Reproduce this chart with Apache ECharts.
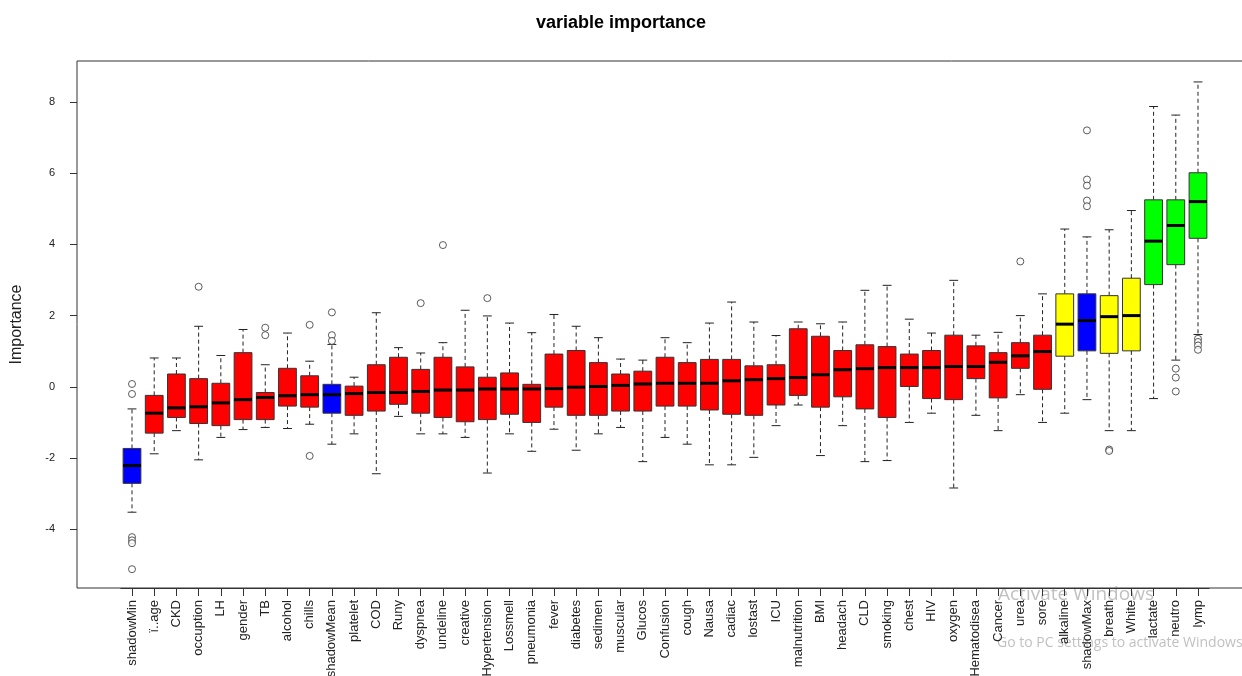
<!DOCTYPE html>
<html>
<head>
<meta charset="utf-8">
<title>variable importance</title>
<script src="https://cdn.jsdelivr.net/npm/echarts@6/dist/echarts.min.js"></script>
<style>
  html, body { margin: 0; padding: 0; background: #fff; }
  #chartBox { width: 1242px; height: 676px; }
</style>
</head>
<body>
<div id="chartBox"></div>
<script>
// features, in plot order
var features = ['shadowMin', 'ï..age', 'CKD', 'occuption', 'LH', 'gender', 'TB', 'alcohol', 'chills',
  'shadowMean', 'platelet', 'COD', 'Runy', 'dyspnea', 'undeline', 'creative', 'Hypertension', 'Lossmell',
  'pneumonia', 'fever', 'diabetes', 'sedimen', 'muscular', 'Glucos', 'Confusion', 'cough', 'Nausa', 'cadiac',
  'lostast', 'ICU', 'malnutrition', 'BMI', 'headach', 'CLD', 'smoking', 'chest', 'HIV', 'oxygen',
  'Hematodisea', 'Cancer', 'urea', 'sore', 'alkaline', 'shadowMax', 'breath', 'White', 'lactate', 'neutro', 'lymp'];

// Boruta decision for each feature
var decision = ['shadow', 'rejected', 'rejected', 'rejected', 'rejected', 'rejected', 'rejected', 'rejected', 'rejected',
  'shadow', 'rejected', 'rejected', 'rejected', 'rejected', 'rejected', 'rejected', 'rejected', 'rejected',
  'rejected', 'rejected', 'rejected', 'rejected', 'rejected', 'rejected', 'rejected', 'rejected', 'rejected', 'rejected',
  'rejected', 'rejected', 'rejected', 'rejected', 'rejected', 'rejected', 'rejected', 'rejected', 'rejected', 'rejected',
  'rejected', 'rejected', 'rejected', 'rejected', 'tentative', 'shadow', 'tentative', 'tentative', 'confirmed', 'confirmed', 'confirmed'];

var lowerWhisker = [-3.52, -1.88, -1.23, -2.05, -1.42, -1.20, -1.14, -1.17, -1.05,
  -1.61, -1.32, -2.44, -0.83, -1.32, -1.32, -1.42, -2.42, -1.32,
  -1.81, -1.19, -1.78, -1.32, -1.14, -2.10, -1.42, -1.61, -2.19, -2.19,
  -1.98, -1.09, -0.51, -1.93, -1.09, -2.10, -2.07, -1.00, -0.74, -2.84,
  -0.80, -1.23, -0.22, -1.00, -0.74, -0.36, -1.23, -1.23, -0.33, 0.75, 1.47];

var q1 = [-2.71, -1.30, -0.86, -1.03, -1.09, -0.92, -0.92, -0.54, -0.57,
  -0.74, -0.80, -0.68, -0.49, -0.74, -0.86, -0.98, -0.92, -0.77,
  -1.00, -0.57, -0.80, -0.80, -0.68, -0.68, -0.54, -0.54, -0.65, -0.77,
  -0.80, -0.51, -0.24, -0.57, -0.28, -0.62, -0.86, 0.01, -0.33, -0.36,
  0.23, -0.31, 0.52, -0.07, 0.86, 1.01, 0.94, 1.01, 2.87, 3.43, 4.17];

var median = [-2.21, -0.74, -0.59, -0.56, -0.45, -0.36, -0.30, -0.25, -0.22,
  -0.22, -0.19, -0.16, -0.16, -0.13, -0.09, -0.09, -0.06, -0.06,
  -0.06, -0.05, -0.01, 0.01, 0.04, 0.08, 0.10, 0.10, 0.10, 0.17,
  0.20, 0.23, 0.26, 0.34, 0.48, 0.51, 0.54, 0.54, 0.54, 0.57,
  0.57, 0.69, 0.87, 0.99, 1.76, 1.86, 1.97, 2.00, 4.09, 4.53, 5.20];

var q3 = [-1.73, -0.24, 0.36, 0.23, 0.10, 0.96, -0.16, 0.52, 0.31,
  0.07, 0.02, 0.62, 0.83, 0.49, 0.83, 0.56, 0.27, 0.39,
  0.07, 0.92, 1.02, 0.68, 0.36, 0.44, 0.83, 0.68, 0.77, 0.77,
  0.59, 0.62, 1.63, 1.42, 1.02, 1.18, 1.13, 0.92, 1.02, 1.45,
  1.15, 0.96, 1.24, 1.45, 2.61, 2.61, 2.56, 3.05, 5.25, 5.25, 6.01];

var upperWhisker = [-0.62, 0.81, 0.81, 1.70, 0.88, 1.61, 0.62, 1.51, 0.72,
  1.19, 0.27, 2.08, 1.10, 0.95, 1.24, 2.15, 1.99, 1.79,
  1.52, 2.03, 1.70, 1.38, 0.78, 0.75, 1.38, 1.24, 1.79, 2.38,
  1.82, 1.44, 1.82, 1.77, 1.82, 2.71, 2.85, 1.90, 1.51, 2.99,
  1.45, 1.53, 2.00, 2.61, 4.43, 4.21, 4.41, 4.95, 7.87, 7.63, 8.56];

// outlying runs: [feature, importance]
var outliers = [
  ['shadowMin', 0.08], ['shadowMin', -0.20], ['shadowMin', -4.22], ['shadowMin', -4.31],
  ['shadowMin', -4.39], ['shadowMin', -5.12],
  ['occuption', 2.81], ['TB', 1.66], ['TB', 1.45], ['chills', 1.74], ['chills', -1.94],
  ['shadowMean', 2.09], ['shadowMean', 1.45], ['shadowMean', 1.29],
  ['dyspnea', 2.35], ['undeline', 3.98], ['Hypertension', 2.49], ['urea', 3.52],
  ['shadowMax', 7.20], ['shadowMax', 5.82], ['shadowMax', 5.65], ['shadowMax', 5.23], ['shadowMax', 5.07],
  ['breath', -1.76], ['breath', -1.80],
  ['neutro', 0.51], ['neutro', 0.26], ['neutro', -0.13],
  ['lymp', 1.35], ['lymp', 1.26], ['lymp', 1.16], ['lymp', 1.04]
];

var yTicks = [-4, -2, 0, 2, 4, 6, 8];

var fillColor = {
  shadow: '#0000ff',
  rejected: '#ff0000',
  tentative: '#ffff00',
  confirmed: '#00ff00'
};

var boxData = [];
for (var i = 0; i < features.length; i++) {
  boxData.push([i, lowerWhisker[i], q1[i], median[i], q3[i], upperWhisker[i]]);
}

function renderBox(params, api) {
  var x = api.value(0);
  var lo = api.coord([x, api.value(1)]);
  var b1 = api.coord([x, api.value(2)]);
  var md = api.coord([x, api.value(3)]);
  var b3 = api.coord([x, api.value(4)]);
  var hi = api.coord([x, api.value(5)]);
  var band = api.size([1, 0])[0];
  var half = band * 0.4;
  var cap = half / 2;
  var cx = md[0];
  var dash = { stroke: '#222', lineWidth: 1, lineDash: [4, 3] };
  var solid = { stroke: '#222', lineWidth: 1 };
  return {
    type: 'group',
    children: [
      { type: 'line', shape: { x1: cx, y1: b3[1], x2: cx, y2: hi[1] }, style: dash },
      { type: 'line', shape: { x1: cx, y1: b1[1], x2: cx, y2: lo[1] }, style: dash },
      { type: 'line', shape: { x1: cx - cap, y1: hi[1], x2: cx + cap, y2: hi[1] }, style: solid },
      { type: 'line', shape: { x1: cx - cap, y1: lo[1], x2: cx + cap, y2: lo[1] }, style: solid },
      {
        type: 'rect',
        shape: { x: cx - half, y: b3[1], width: half * 2, height: b1[1] - b3[1] },
        style: { fill: fillColor[decision[params.dataIndex]], stroke: '#333', lineWidth: 1 }
      },
      { type: 'line', shape: { x1: cx - half, y1: md[1], x2: cx + half, y2: md[1] }, style: { stroke: '#000', lineWidth: 3 } }
    ]
  };
}

var chart = echarts.init(document.getElementById('chartBox'));

var option = {
  backgroundColor: '#fff',
  animation: false,
  title: {
    text: 'variable importance',
    left: 'center',
    top: 9,
    textStyle: { fontFamily: 'Liberation Sans', fontSize: 18, fontWeight: 'bold', color: '#000' }
  },
  grid: [
    // frame
    {
      left: 77, top: 61, width: 1176, height: 527, outerBoundsMode: 'none',
      show: true, borderColor: '#333', borderWidth: 1, backgroundColor: 'transparent'
    },
    // boxes
    { left: 120.9, top: 61, width: 1088.2, height: 527, outerBoundsMode: 'none' }
  ],
  xAxis: [
    { gridIndex: 0, type: 'value', min: 0, max: 1, show: false },
    {
      gridIndex: 1,
      type: 'category',
      data: features,
      boundaryGap: true,
      position: 'bottom',
      axisLine: { show: true, onZero: false, lineStyle: { color: '#333' } },
      axisTick: { show: true, alignWithLabel: true, inside: false, length: 8, lineStyle: { color: '#333' } },
      axisLabel: {
        interval: 0, rotate: 90, margin: 12,
        fontFamily: 'Liberation Sans', fontSize: 13, color: '#222'
      },
      name: 'features',
      nameLocation: 'middle',
      nameGap: 64,
      nameTextStyle: { fontFamily: 'Liberation Sans', fontSize: 15, color: '#222' }
    }
  ],
  yAxis: [
    {
      gridIndex: 0,
      type: 'value',
      min: -5.648,
      max: 9.148,
      splitLine: { show: false },
      axisLine: { show: false },
      axisTick: { show: true, length: 7, customValues: yTicks, lineStyle: { color: '#333' } },
      axisLabel: {
        customValues: yTicks, margin: 22,
        fontFamily: 'Liberation Sans', fontSize: 11, color: '#222'
      },
      name: 'Importance',
      nameLocation: 'middle',
      nameGap: 52,
      nameTextStyle: { fontFamily: 'Liberation Sans', fontSize: 16, color: '#222' }
    },
    { gridIndex: 1, type: 'value', min: -5.648, max: 9.148, show: false, splitLine: { show: false } }
  ],
  series: [
    {
      name: 'importance',
      type: 'custom',
      xAxisIndex: 1,
      yAxisIndex: 1,
      renderItem: renderBox,
      encode: { x: 0, y: [1, 2, 3, 4, 5] },
      data: boxData,
      z: 2
    },
    {
      name: 'outliers',
      type: 'scatter',
      xAxisIndex: 1,
      yAxisIndex: 1,
      symbol: 'circle',
      symbolSize: 7,
      itemStyle: { color: '#fff', borderColor: '#333', borderWidth: 1 },
      data: outliers,
      z: 3
    }
  ],
  graphic: [
    {
      type: 'text', left: 998, top: 585, silent: true,
      style: { text: 'Activate Windows', fontFamily: 'Open Sans', fontSize: 19, fill: 'rgba(140,140,140,0.55)' }
    },
    {
      type: 'text', left: 997, top: 636, silent: true,
      style: { text: 'Go to PC settings to activate Windows.', fontFamily: 'Open Sans', fontSize: 14, fill: 'rgba(140,140,140,0.55)' }
    }
  ]
};

chart.setOption(option);
</script>
</body>
</html>
